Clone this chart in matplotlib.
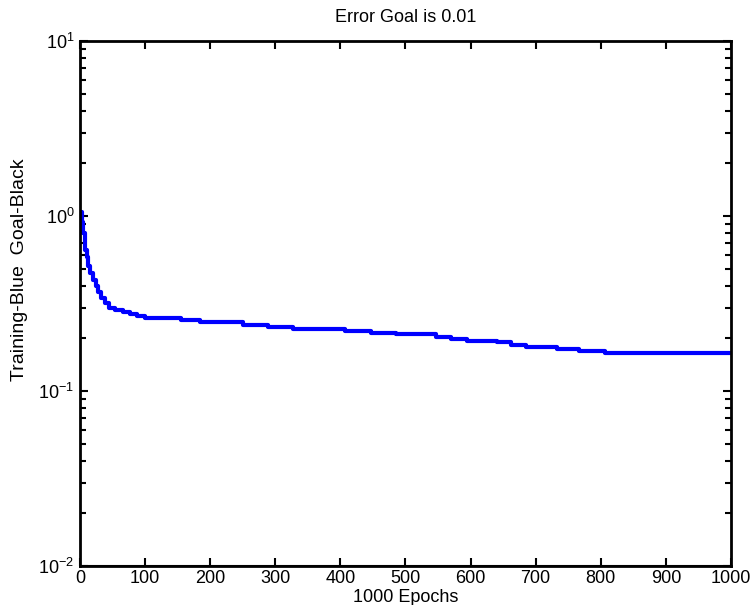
import matplotlib.pyplot as plt
from matplotlib.ticker import LogLocator, MultipleLocator, NullFormatter

plt.rcParams['font.family'] = ['Liberation Sans', 'DejaVu Sans']

# training error (step changes at these epochs)
epochs = [0, 3, 5, 7, 10, 13, 16, 20, 24, 28, 33, 38, 45, 54, 66, 77, 88,
          100, 155, 184, 250, 289, 327, 407, 447, 485, 547, 570, 594, 640,
          662, 685, 733, 766, 807, 1000]
errors = [1.05, 0.93, 0.80, 0.64, 0.58, 0.52, 0.47, 0.43, 0.40, 0.37, 0.34,
          0.32, 0.30, 0.29, 0.282, 0.275, 0.268, 0.262, 0.255, 0.247, 0.238,
          0.232, 0.226, 0.221, 0.216, 0.211, 0.204, 0.198, 0.194, 0.190,
          0.183, 0.178, 0.174, 0.170, 0.166, 0.166]
goal = 0.01
max_epochs = 1000

fig = plt.figure(figsize=(7.52, 6.05), dpi=100)
ax = fig.add_axes([0.1064, 0.0645, 0.8656, 0.8675])

ax.plot([0, max_epochs], [goal, goal], color='black', lw=1.5)
ax.plot(epochs, errors, color='#0000ff', lw=3, drawstyle='steps-post')

ax.set_yscale('log')
ax.set_xlim(0, max_epochs)
ax.set_ylim(1e-2, 1e1)
ax.xaxis.set_major_locator(MultipleLocator(100))
ax.yaxis.set_major_locator(LogLocator(base=10, numticks=10))
ax.yaxis.set_minor_locator(LogLocator(base=10, subs=range(2, 10), numticks=10))
ax.yaxis.set_minor_formatter(NullFormatter())

for s in ax.spines.values():
    s.set_linewidth(2)
ax.tick_params(which='both', direction='in', top=True, right=True,
               labelsize=13, width=1.5, colors='black')
ax.tick_params(which='major', length=6)
ax.tick_params(which='minor', length=4)
ax.tick_params(axis='x', pad=3)
ax.tick_params(axis='y', pad=4)

ax.set_title('Error Goal is 0.01', fontsize=13, pad=14)
ax.set_xlabel('1000 Epochs', fontsize=13, labelpad=1)
ax.set_ylabel('Training-Blue  Goal-Black', fontsize=14)
ax.yaxis.set_label_coords(-0.08, 0.564)

fig.savefig('out.png', dpi=100)
